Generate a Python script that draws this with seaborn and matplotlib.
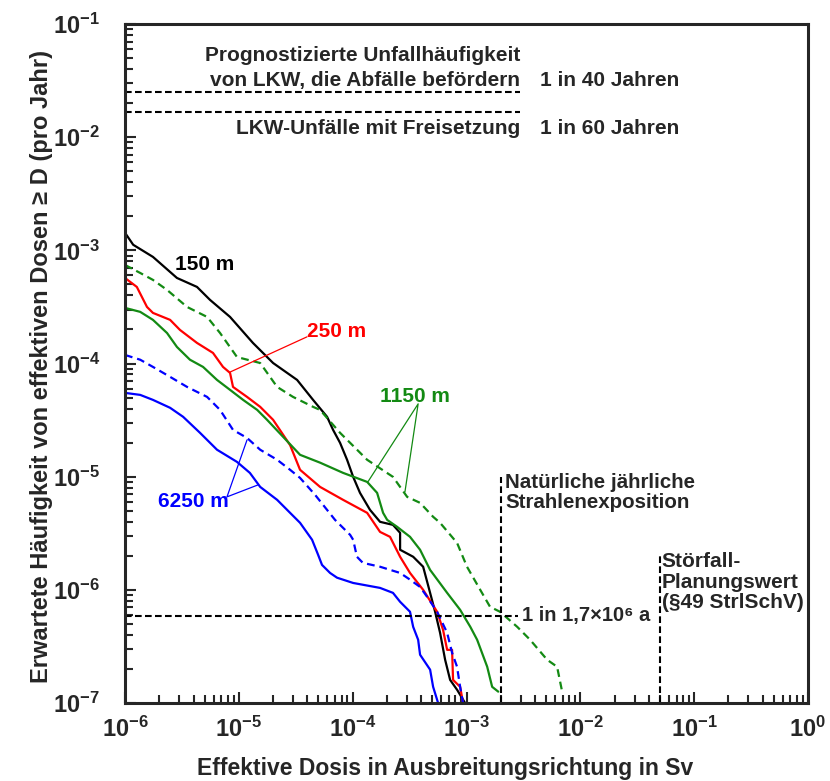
import numpy as np
import pandas as pd
import matplotlib
matplotlib.use("Agg")
import matplotlib.pyplot as plt
import seaborn as sns
from matplotlib.ticker import FuncFormatter, LogLocator, NullFormatter

# values (dose in Sv, frequency per year)
x_150 = [1.0e-6, 1.18e-6, 1.76e-6, 2.86e-6, 4.29e-6, 5.58e-6, 8.37e-6, 1.33e-5, 2.0e-5, 3.25e-5,
         4.49e-5, 5.96e-5, 6.73e-5, 7.75e-5, 8.93e-5, 1.01e-4, 1.16e-4, 1.42e-4, 1.74e-4, 2.26e-4,
         2.61e-4, 2.61e-4, 3.40e-4, 4.16e-4, 4.79e-4, 5.30e-4, 5.86e-4, 6.49e-4, 7.18e-4, 8.26e-4, 9.72e-4]
y_150 = [1.43e-3, 1.12e-3, 8.75e-4, 5.70e-4, 4.75e-4, 3.65e-4, 2.58e-4, 1.52e-4, 1.01e-4, 7.16e-5,
         4.77e-5, 3.38e-5, 2.59e-5, 1.99e-5, 1.41e-5, 9.96e-6, 7.19e-6, 5.09e-6, 3.99e-6, 3.75e-6,
         3.19e-6, 2.26e-6, 1.96e-6, 1.60e-6, 9.40e-7, 6.40e-7, 4.17e-7, 2.41e-7, 1.60e-7, 1.31e-7, 1.0e-7]

x_250 = [1.0e-6, 1.27e-6, 1.56e-6, 1.76e-6, 2.49e-6, 3.04e-6, 4.29e-6, 5.93e-6, 7.26e-6, 8.37e-6,
         8.89e-6, 1.18e-5, 1.54e-5, 2.0e-5, 2.82e-5, 3.45e-5, 5.17e-5, 8.24e-5, 1.34e-4, 1.74e-4,
         2.13e-4, 2.61e-4, 3.19e-4, 4.16e-4, 5.52e-4, 6.22e-4, 6.76e-4, 7.47e-4, 7.62e-4, 8.79e-4, 9.33e-4]
y_250 = [5.70e-4, 4.75e-4, 3.16e-4, 2.80e-4, 2.43e-4, 1.98e-4, 1.52e-4, 1.24e-4, 9.33e-5, 8.26e-5,
         6.21e-5, 5.07e-5, 4.14e-5, 3.18e-5, 1.90e-5, 1.15e-5, 8.12e-6, 6.24e-6, 4.79e-6, 3.25e-6,
         2.94e-6, 1.96e-6, 1.41e-6, 1.0e-6, 6.40e-7, 4.44e-7, 2.95e-7, 2.95e-7, 1.60e-7, 1.39e-7, 1.0e-7]

x_1150 = [1.0e-6, 1.36e-6, 1.76e-6, 2.34e-6, 2.86e-6, 3.72e-6, 4.85e-6, 6.43e-6, 8.37e-6, 1.09e-5,
          1.45e-5, 1.77e-5, 3.45e-5, 5.17e-5, 8.24e-5, 1.34e-4, 1.64e-4, 1.85e-4, 2.01e-4, 2.46e-4,
          3.19e-4, 3.91e-4, 4.79e-4, 6.76e-4, 8.79e-4, 1.08e-3, 1.24e-3, 1.52e-3, 1.68e-3, 1.90e-3]
y_1150 = [3.10e-4, 2.86e-4, 2.43e-4, 1.86e-4, 1.40e-4, 1.08e-4, 9.33e-5, 7.16e-5, 5.85e-5, 4.77e-5,
          3.89e-5, 3.18e-5, 1.56e-5, 1.33e-5, 1.08e-5, 8.99e-6, 7.19e-6, 4.79e-6, 4.15e-6, 3.60e-6,
          2.94e-6, 2.26e-6, 1.50e-6, 9.40e-7, 6.66e-7, 4.71e-7, 3.62e-7, 2.09e-7, 1.39e-7, 1.26e-7]

x_1150d = [1.0e-6, 1.36e-6, 1.76e-6, 2.34e-6, 3.51e-6, 5.26e-6, 6.84e-6, 9.64e-6, 1.54e-5, 2.17e-5,
           2.99e-5, 4.49e-5, 5.17e-5, 7.75e-5, 1.34e-4, 2.26e-4, 3.01e-4, 3.91e-4, 5.09e-4, 5.86e-4,
           8.26e-4, 1.01e-3, 1.32e-3, 1.61e-3, 1.97e-3, 2.79e-3, 3.62e-3, 5.11e-3, 6.25e-3, 6.92e-3]
y_1150d = [7.43e-4, 6.31e-4, 5.48e-4, 4.47e-4, 3.16e-4, 2.58e-4, 1.86e-4, 1.14e-4, 1.01e-4, 6.21e-5,
           5.07e-5, 4.14e-5, 3.89e-5, 2.44e-5, 1.41e-5, 9.96e-6, 6.63e-6, 5.87e-6, 4.42e-6, 3.91e-6,
           2.60e-6, 1.60e-6, 1.0e-6, 7.08e-7, 6.40e-7, 4.71e-7, 3.62e-7, 2.41e-7, 2.09e-7, 1.26e-7]

x_6250 = [1.0e-6, 1.36e-6, 1.76e-6, 2.49e-6, 3.24e-6, 4.56e-6, 6.43e-6, 9.64e-6, 1.25e-5, 1.54e-5,
          2.17e-5, 2.82e-5, 3.45e-5, 4.40e-5, 4.97e-5, 5.38e-5, 6.33e-5, 7.29e-5, 1.01e-4, 1.74e-4,
          2.26e-4, 2.61e-4, 3.19e-4, 3.40e-4, 3.76e-4, 3.91e-4, 4.79e-4, 5.09e-4, 5.63e-4]
y_6250 = [5.50e-5, 5.28e-5, 4.77e-5, 4.06e-5, 3.38e-5, 2.44e-5, 1.73e-5, 1.35e-5, 1.08e-5, 8.12e-6,
          6.24e-6, 4.79e-6, 3.91e-6, 2.77e-6, 2.04e-6, 1.66e-6, 1.41e-6, 1.28e-6, 1.15e-6, 1.04e-6,
          9.40e-7, 7.84e-7, 6.40e-7, 4.71e-7, 3.62e-7, 2.67e-7, 1.97e-7, 1.39e-7, 1.0e-7]

x_6250d = [1.0e-6, 1.36e-6, 1.76e-6, 2.49e-6, 3.51e-6, 5.26e-6, 6.84e-6, 8.89e-6, 1.18e-5, 1.54e-5,
           2.17e-5, 2.82e-5, 3.45e-5, 4.68e-5, 7.0e-5, 9.5e-5, 1.01e-4, 1.09e-4, 1.23e-4, 1.74e-4,
           2.61e-4, 3.19e-4, 3.91e-4, 4.51e-4, 5.52e-4, 6.76e-4, 7.47e-4, 8.26e-4, 8.79e-4, 9.33e-4]
y_6250d = [1.19e-4, 1.08e-4, 9.33e-5, 7.62e-5, 6.21e-5, 5.07e-5, 3.89e-5, 2.59e-5, 2.20e-5, 1.73e-5,
           1.41e-5, 1.15e-5, 9.75e-6, 6.9e-6, 4.15e-6, 3.06e-6, 2.77e-6, 1.96e-6, 1.73e-6, 1.60e-6,
           1.41e-6, 1.23e-6, 1.06e-6, 8.67e-7, 6.40e-7, 4.17e-7, 2.78e-7, 2.09e-7, 1.39e-7, 1.0e-7]

# reference levels
freq_40 = 1 / 40
freq_60 = 1 / 60
freq_17 = 1 / 1.7e6
dose_nat = 2e-3
dose_stoer = 5e-2

x_decades = [1e-6, 1e-5, 1e-4, 1e-3, 1e-2, 1e-1, 1e0]
y_decades = [1e-7, 1e-6, 1e-5, 1e-4, 1e-3, 1e-2, 1e-1]

sns.set_style("ticks")
plt.rcParams["font.family"] = ["Liberation Sans", "DejaVu Sans"]
plt.rcParams["font.weight"] = "bold"
plt.rcParams["axes.labelweight"] = "bold"
plt.rcParams["mathtext.fontset"] = "custom"
plt.rcParams["mathtext.bf"] = "Liberation Sans:bold"
plt.rcParams["mathtext.rm"] = "Liberation Sans:bold"

fig = plt.figure(figsize=(8.3, 7.81), dpi=100)
ax = fig.add_axes([125 / 830, 1 - 703 / 781, 683 / 830, 679 / 781])
ax.set_xscale("log")
ax.set_yscale("log")

green = "#138a13"
series = [
    (x_150, y_150, "black", "-"),
    (x_1150d, y_1150d, green, "--"),
    (x_250, y_250, "red", "-"),
    (x_1150, y_1150, green, "-"),
    (x_6250d, y_6250d, "blue", "--"),
    (x_6250, y_6250, "blue", "-"),
]
for xs, ys, col, ls in series:
    df = pd.DataFrame({"dose": xs, "freq": ys})
    sns.lineplot(data=df, x="dose", y="freq", ax=ax, color=col, estimator=None,
                 sort=False, lw=1.6)
    if ls == "--":
        ax.lines[-1].set_dashes((3.5, 2.2))

# reference lines
ref = dict(color="black", lw=1.5, dashes=(3.2, 1.6))
ax.plot([1e-6, 2.96e-3], [freq_40, freq_40], **ref)
ax.plot([1e-6, 2.96e-3], [freq_60, freq_60], **ref)
ax.plot([1e-6, 2.85e-3], [freq_17, freq_17], **ref)
ax.plot([dose_nat, dose_nat], [1e-7, 1.0e-5], **ref)
ax.plot([dose_stoer, dose_stoer], [1e-7, 2.0e-6], **ref)

# texts
ax.text(2.96e-3, 5.3e-2, "Prognostizierte Unfallhäufigkeit", ha="right", va="center", fontsize=15)
ax.text(2.96e-3, 3.2e-2, "von LKW, die Abfälle befördern", ha="right", va="center", fontsize=15)
ax.text(4.4e-3, 3.2e-2, "1 in 40 Jahren", ha="left", va="center", fontsize=15)
ax.text(2.96e-3, 1.2e-2, "LKW-Unfälle mit Freisetzung", ha="right", va="center", fontsize=15)
ax.text(4.4e-3, 1.2e-2, "1 in 60 Jahren", ha="left", va="center", fontsize=15)

ax.text(3.1e-3, freq_17, "1 in 1,7×10⁶ a", ha="left", va="center", fontsize=14.5)
ax.text(2.18e-3, 1.08e-5, "Natürliche jährliche\nStrahlenexposition", ha="left", va="top",
        fontsize=14.8, linespacing=1.1)
ax.text(5.2e-2, 2.15e-6, "Störfall-\nPlanungswert\n(§49 StrlSchV)", ha="left", va="top",
        fontsize=15, linespacing=1.1)

# curve labels with pointer lines
ax.text(5.0e-6, 7.5e-4, "150 m", color="black", ha="center", va="center", fontsize=15)
ax.text(4.0e-5, 1.9e-4, "250 m", color="red", ha="left", va="center", fontsize=15)
ax.plot([8.37e-6, 3.97e-5], [8.4e-5, 1.72e-4], color="red", lw=0.9)
ax.text(3.53e-4, 5.07e-5, "1150 m", color=green, ha="center", va="center", fontsize=15)
ax.plot([1.36e-4, 3.76e-4, 2.88e-4], [8.99e-6, 4.4e-5, 7.35e-6], color=green, lw=0.9)
ax.text(3.96e-6, 5.98e-6, "6250 m", color="blue", ha="center", va="center", fontsize=15)
ax.plot([1.18e-5, 7.87e-6, 1.48e-5], [2.11e-5, 6.63e-6, 8.47e-6], color="blue", lw=0.9)

# axes styling
ax.set_xlim(1e-6, 1)
ax.set_ylim(1e-7, 1e-1)
ax.set_xticks(x_decades)
ax.set_yticks(y_decades)
ax.xaxis.set_minor_locator(LogLocator(base=10, subs=np.arange(2, 10), numticks=20))
ax.yaxis.set_minor_locator(LogLocator(base=10, subs=np.arange(2, 10), numticks=20))
fmt = FuncFormatter(lambda v, p: r"$\mathbf{10^{%d}}$" % round(np.log10(v)))
ax.xaxis.set_major_formatter(fmt)
ax.yaxis.set_major_formatter(fmt)
ax.xaxis.set_minor_formatter(NullFormatter())
ax.yaxis.set_minor_formatter(NullFormatter())
ax.tick_params(which="both", direction="in", width=1.5, labelsize=17, top=False, right=False)
ax.tick_params(which="major", length=8)
ax.tick_params(which="minor", length=6)
ax.tick_params(axis="x", pad=10)
ax.tick_params(axis="y", pad=18)
for s in ax.spines.values():
    s.set_linewidth(2.2)
    s.set_visible(True)

ax.set_xlabel("Effektive Dosis in Ausbreitungsrichtung in Sv", fontsize=16.5)
ax.set_ylabel("Erwartete Häufigkeit von effektiven Dosen ≥ D (pro Jahr)", fontsize=17)
ax.xaxis.set_label_coords(0.468, -0.079)
ax.yaxis.set_label_coords(-0.105, 0.495)

fig.savefig("out.png", dpi=100)
